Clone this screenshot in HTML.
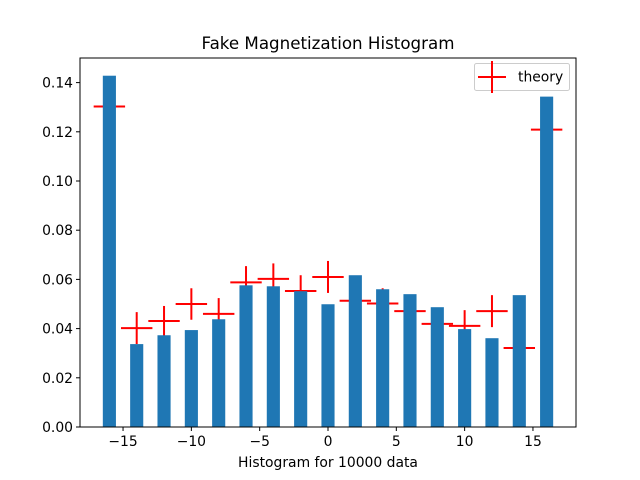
<!DOCTYPE html>
<html><head><meta charset="utf-8"><style>
body{margin:0;background:#fff}
svg{display:block;font-family:"DejaVu Sans","Liberation Sans",sans-serif}
</style></head><body>
<svg id="chart" width="640" height="480" viewBox="0 0 640 480" xmlns="http://www.w3.org/2000/svg">
<rect width="640" height="480" fill="#fff"/>
<text x="328" y="49" font-size="16.7" text-anchor="middle">Fake Magnetization Histogram</text>
<g id="errs"></g>
<g id="bars"></g>
<g id="ticks"></g>
<rect x="80" y="58" width="496" height="369" fill="none" stroke="#000" stroke-width="1"/>
<text x="328" y="467" font-size="13.9" text-anchor="middle">Histogram for 10000 data</text>
<g>
<rect x="474.5" y="63.5" width="95" height="27" rx="2" fill="#fff" stroke="#ccc"/>
<line x1="478" y1="77" x2="506" y2="77" stroke="red" stroke-width="2"/>
<line x1="492" y1="61" x2="492" y2="93" stroke="red" stroke-width="2"/>
<text x="518" y="81.5" font-size="13.9">theory</text>
</g>
</svg>
<script>
const categories=[-16,-14,-12,-10,-8,-6,-4,-2,0,2,4,6,8,10,12,14,16];
const histValues=[0.1428,0.0337,0.0373,0.0394,0.0438,0.0576,0.0572,0.0552,0.0499,0.0617,0.0560,0.0540,0.0487,0.0398,0.0361,0.0536,0.1343];
const theoryValues=[0.1303,0.0402,0.0431,0.0500,0.0460,0.0588,0.0602,0.0553,0.0610,0.0513,0.0502,0.0471,0.0419,0.0411,0.0471,0.0321,0.1209];
const theoryErr=[0.0064,0.0065,0.0061,0.0064,0.0064,0.0066,0.0063,0.0064,0.0065,0.0064,0.0062,0.0064,0.0064,0.0064,0.0065,0.0064,0.0064];
const xTicks=[-15,-10,-5,0,5,10,15];
const yTicks=[0,0.02,0.04,0.06,0.08,0.10,0.12,0.14];
const xMin=-18.15,xMax=18.15,yMin=0,yMax=0.15;
const L=80,R=576,T=58,B=427;
const xs=v=>L+(v-xMin)/(xMax-xMin)*(R-L);
const ys=v=>B-(v-yMin)/(yMax-yMin)*(B-T);
const NS="http://www.w3.org/2000/svg";
function mk(tag,attrs,parent){const e=document.createElementNS(NS,tag);for(const k in attrs)e.setAttribute(k,attrs[k]);parent.appendChild(e);return e;}
const eg=document.getElementById('errs'),bg=document.getElementById('bars'),tg=document.getElementById('ticks');
const xerr=1.15;
theoryValues.forEach((v,i)=>{
  const x=categories[i];
  const h=mk('line',{x1:xs(x-xerr),x2:xs(x+xerr),y1:ys(v),y2:ys(v),stroke:'red','stroke-width':2},eg);
  
  
  const vl=mk('line',{x1:xs(x),x2:xs(x),y1:ys(v-theoryErr[i]),y2:ys(v+theoryErr[i]),stroke:'red','stroke-width':2},eg);
  
  
});
histValues.forEach((v,i)=>{
  const x=categories[i];
  const r=mk('rect',{x:xs(x-0.48),width:xs(x+0.48)-xs(x-0.48),y:ys(v),height:ys(0)-ys(v),fill:'#1f77b4'},bg);
  
  
});
xTicks.forEach(t=>{
  const x=xs(t);
  const l=mk('line',{x1:x,x2:x,y1:B,y2:B+4,stroke:'#000'},tg);
  
  
  const tx=mk('text',{x:x,y:B+19,'font-size':13.9,'text-anchor':'middle'},tg);
  tx.textContent=(t<0?'\u2212'+(-t):String(t));
  
  
});
yTicks.forEach(t=>{
  const y=ys(t);
  const l=mk('line',{x1:L-4,x2:L,y1:y,y2:y,stroke:'#000'},tg);
  
  
  const tx=mk('text',{x:L-7,y:y+5,'font-size':13.9,'text-anchor':'end'},tg);
  tx.textContent=t.toFixed(2);
  
  
});
</script>
</body></html>
